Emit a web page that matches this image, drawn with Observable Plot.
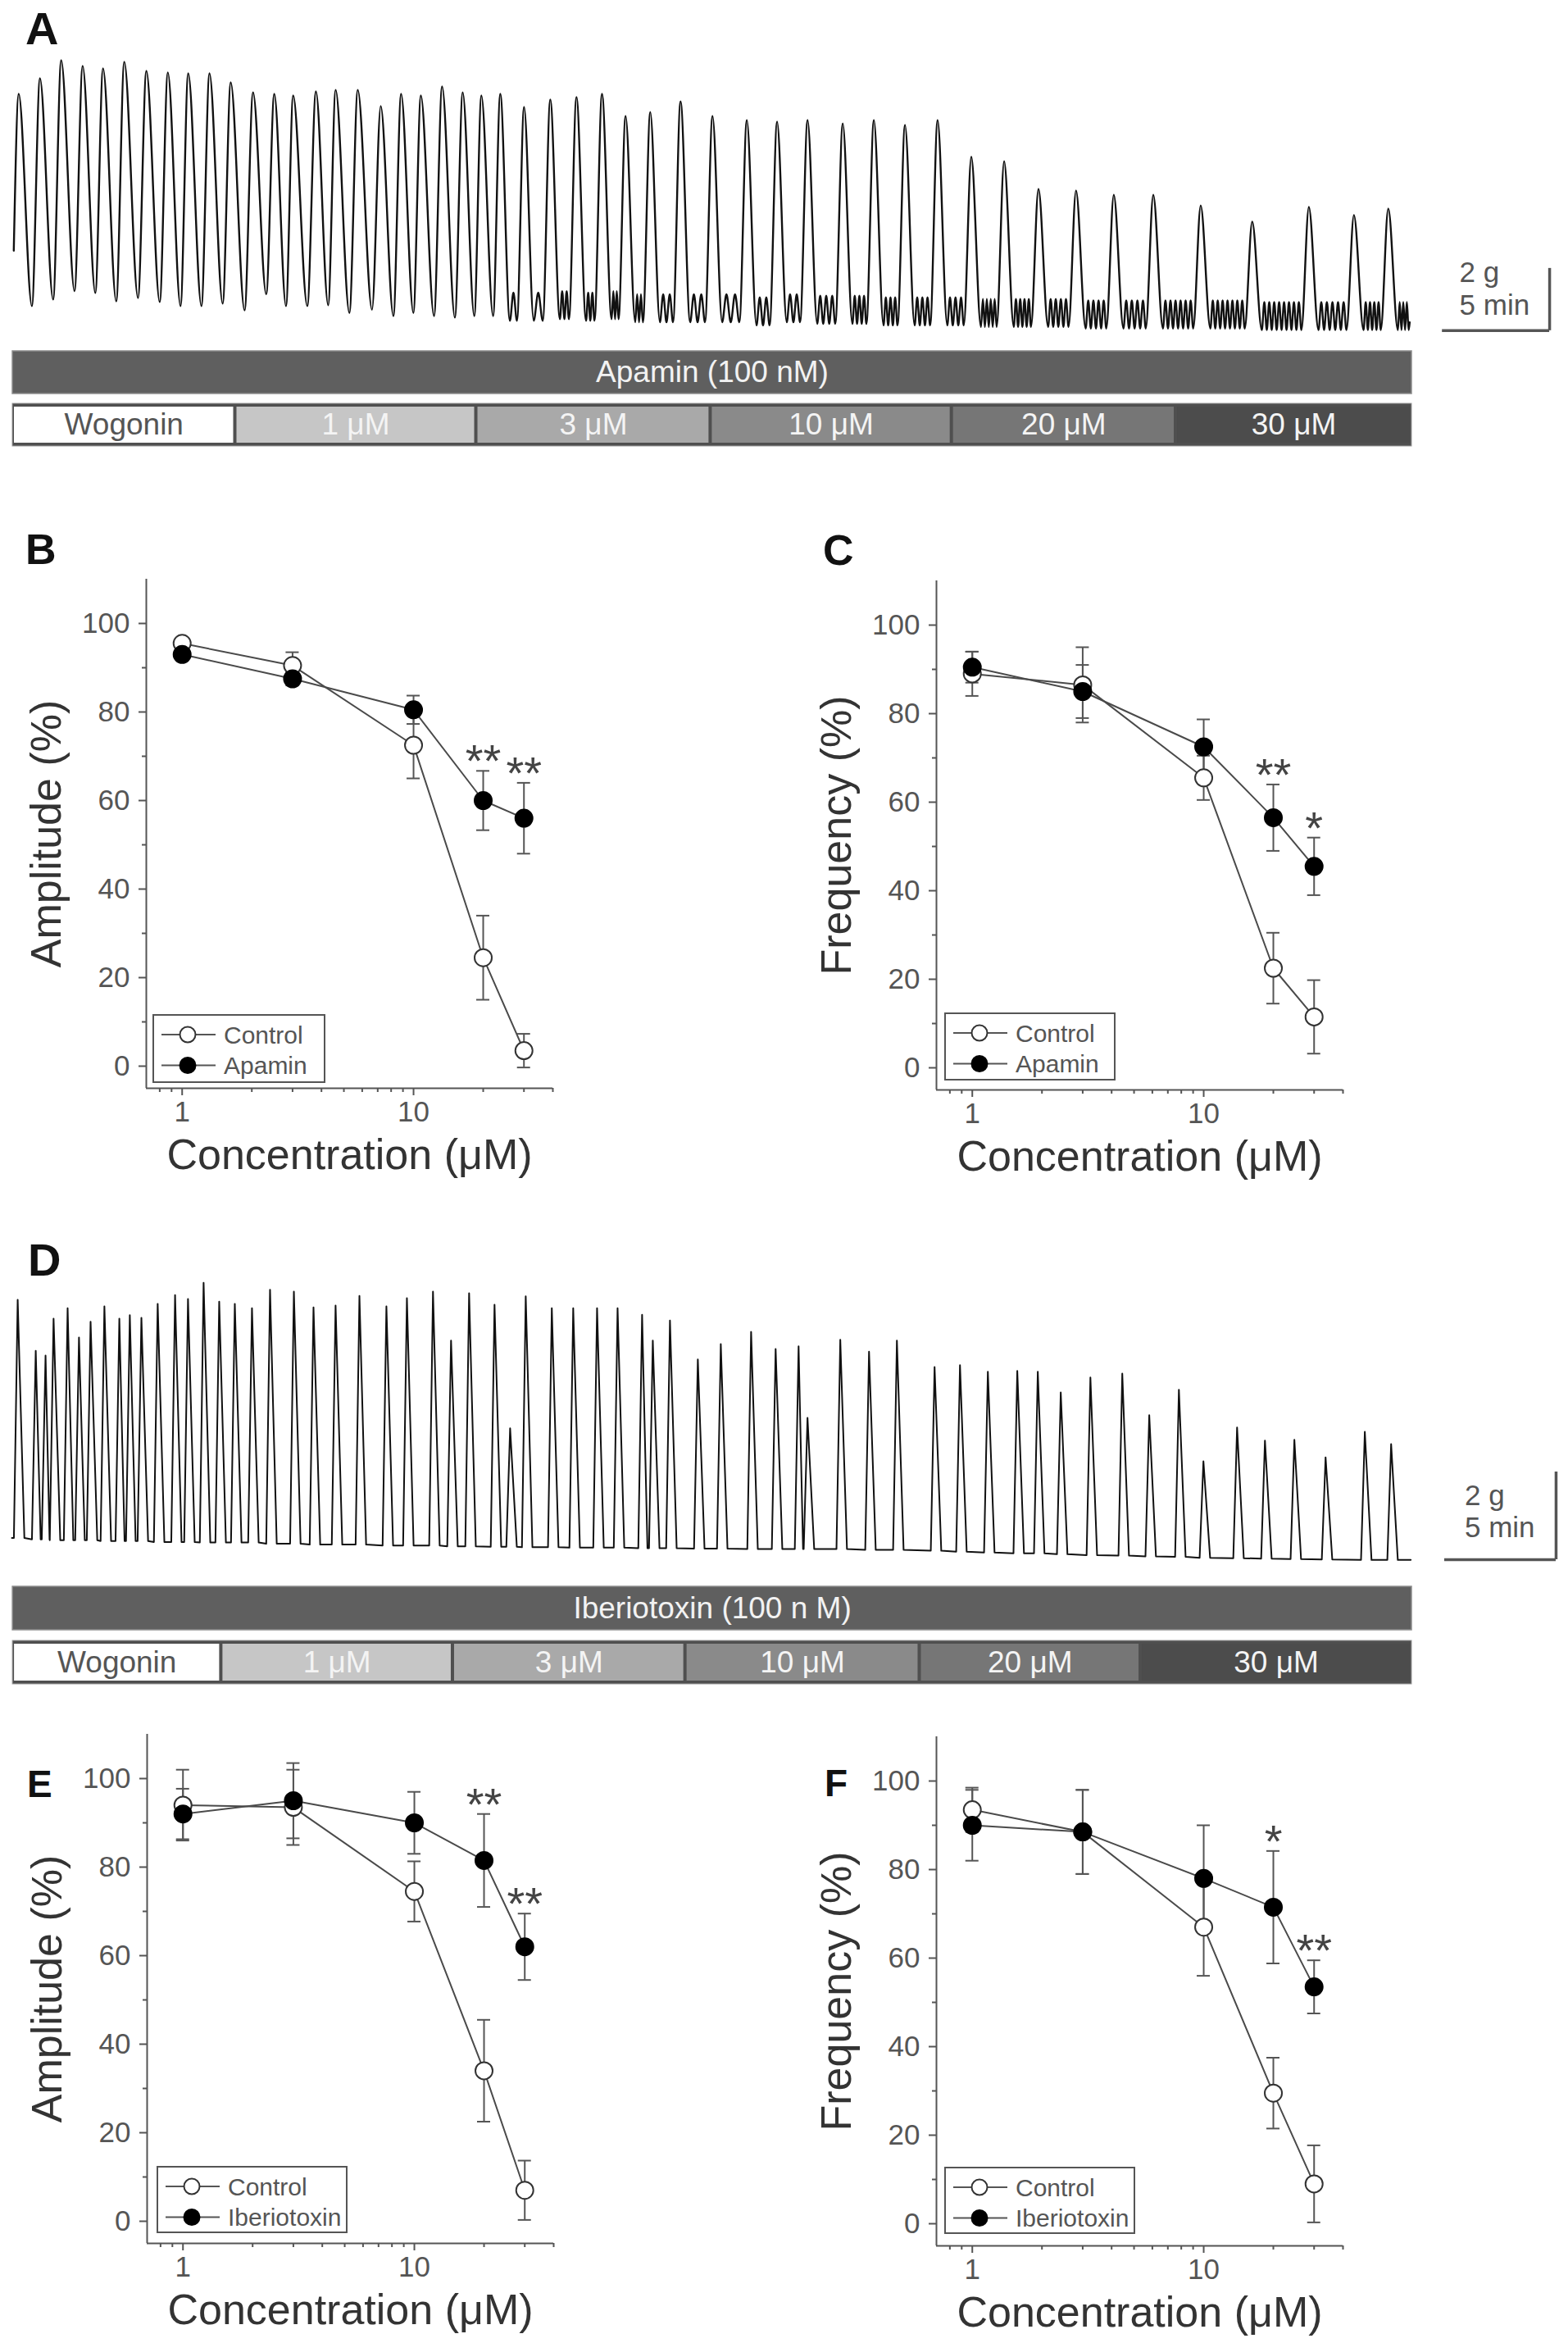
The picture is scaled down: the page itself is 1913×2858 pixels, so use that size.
<!DOCTYPE html>
<html><head><meta charset="utf-8">
<script src="https://cdn.jsdelivr.net/npm/d3@7"></script>
<script src="https://cdn.jsdelivr.net/npm/@observablehq/plot@0.6"></script>
<style>
body{margin:0;background:#fff}
#root{position:relative;width:1913px;height:2858px;background:#fff;font-family:"Liberation Sans",Arial,sans-serif;overflow:hidden}
.p{position:absolute}
</style>
</head><body><div id="root"></div>
<script>
// ---------------- DATA ----------------
// Panel A trace (time in min, tension in g)
const aPeakT = [0.23,1.22,2.21,3.21,4.16,5.15,6.18,7.18,8.13,9.12,10.11,11.15,12.14,13.02,14.08,15.0,16.03,17.1,18.05,18.97,19.96,20.92,21.79,22.67,23.78,25.0,26.22,27.41,28.51,29.66,31.07,32.56,34.16,35.57,36.99,38.63,40.08,41.53,43.05,44.62,46.15,47.75,49.5,51.26,53.1,55.31,57.71,60.35,62.45,64.05];
const aPeakG = [7.63,8.13,8.71,8.53,8.45,8.66,8.37,8.32,8.29,8.29,8.0,7.68,7.63,7.58,7.71,7.76,7.76,7.24,7.63,7.58,7.87,7.68,7.58,7.63,7.21,7.45,7.53,7.63,6.92,7.05,7.39,6.92,6.79,6.74,6.79,6.68,6.79,6.63,6.79,5.61,5.47,4.58,4.53,4.39,4.39,4.05,3.53,4.0,3.74,3.95];
const aTroughG = [0.82,1.03,1.3,1.24,0.97,1.08,0.95,0.82,0.82,0.9,0.68,1.2,0.82,0.82,0.85,0.6,0.7,0.5,0.6,0.5,0.45,0.5,0.5,0.35,0.35,0.4,0.35,0.4,0.3,0.3,0.3,0.3,0.2,0.3,0.25,0.25,0.2,0.2,0.2,0.15,0.15,0.15,0.1,0.1,0.1,0.1,0.05,0.05,0.05,0.05];
const aRipples = [0,0,0,0,0,0,0,0,0,0,0,0,0,0,0,0,0,0,0,0,0,0,0,1,1,2,2,2,2,2,2,2,2,2,3,3,3,3,3,4,4,4,4,4,6,7,8,5,4,3];
const aRippleAmp = 0.9;
const aStart = [0, 2.6], aEnd = [65.05, 0.3];
const aSegments = ["Wogonin","1 μM","3 μM","10 μM","20 μM","30 μM"];
const aBounds = [-0.05,10.32,21.55,32.47,43.71,54.15,65.15];
const aTreatment = "Apamin (100 nM)";

// Panel D trace
const dPeakT = [0.26,1.07,1.51,1.87,2.50,3.01,3.53,4.15,4.82,5.29,5.81,6.54,7.32,7.90,8.60,9.30,10.0,10.77,11.58,12.65,13.53,14.52,15.59,16.8,17.72,18.89,19.70,20.51,21.65,22.35,23.05,24.22,25.18,26.25,27.17,28.27,28.75,29.52,30.77,31.80,33.16,34.26,35.29,35.69,37.16,38.45,39.70,41.39,42.53,43.78,45.10,46.02,47.05,48.38,49.81,51.02,52.35,53.45,54.96,56.21,57.53,58.93,60.69,61.87];
const dPeakG = [5.98,4.82,4.71,5.55,5.79,5.12,5.48,5.83,5.55,5.63,5.57,5.89,6.09,6.0,6.37,5.94,5.89,5.79,6.21,6.17,5.81,5.85,6.07,5.83,6.02,6.17,5.05,6.13,5.87,3.05,6.06,5.79,5.79,5.79,5.79,5.64,5.05,5.51,4.62,4.97,5.25,4.86,4.92,3.29,5.07,4.80,5.05,4.45,4.49,4.34,4.36,4.34,3.87,4.21,4.30,3.35,3.93,2.30,3.07,2.77,2.79,2.39,2.97,2.69];
const dBaseG = [0.55,0.52,0.52,0.5,0.5,0.5,0.5,0.48,0.48,0.48,0.48,0.46,0.46,0.46,0.45,0.45,0.45,0.45,0.42,0.42,0.4,0.4,0.4,0.38,0.38,0.38,0.36,0.36,0.35,0.35,0.34,0.34,0.33,0.33,0.33,0.32,0.32,0.32,0.31,0.31,0.3,0.3,0.3,0.3,0.3,0.28,0.28,0.26,0.24,0.22,0.2,0.2,0.18,0.16,0.15,0.13,0.12,0.1,0.09,0.08,0.07,0.06,0.05,0.05];
const dStart = [0, 0.55], dEnd = [62.75, 0.05];
const dSegments = ["Wogonin","1 μM","3 μM","10 μM","20 μM","30 μM"];
const dBounds = [0.04,9.39,19.78,30.21,40.72,50.63,62.8];
const dTreatment = "Iberiotoxin (100 n M)";

// Scale bars (5 min, 2 g)
const scaleMin = 5, scaleG = 2;
const aScaleOrigin = [71.57, 0.03];
const dScaleOrigin = [69.27, 0.056];

// Dose-response data (concentration in μM, mean and SEM in %)
const conc = [1, 3, 10, 20, 30];
const bCtrlMean = [95.5, 90.5, 72.5, 24.5, 3.5];
const bCtrlSem  = [1.0, 3.0, 7.5, 9.5, 3.8];
const bTrtMean  = [93.0, 87.5, 80.5, 60.0, 56.0];
const bTrtSem   = [1.0, 1.5, 3.2, 6.7, 8.0];
const bSig = ["", "", "", "**", "**"];
const cCtrlMean = [89.0, 86.5, 65.5, 22.5, 11.5];
const cCtrlSem  = [5.0, 8.5, 5.0, 8.0, 8.3];
const cTrtMean  = [90.5, 85.0, 72.5, 56.5, 45.5];
const cTrtSem   = [3.5, 6.0, 6.2, 7.5, 6.5];
const cSig = ["", "", "", "**", "*"];
const eCtrlMean = [94.0, 93.5, 74.5, 34.0, 7.0];
const eCtrlSem  = [8.0, 8.5, 6.8, 11.5, 6.7];
const eTrtMean  = [92.0, 95.0, 90.0, 81.5, 62.0];
const eTrtSem   = [5.7, 8.5, 7.0, 10.5, 7.5];
const eSig = ["", "", "", "**", "**"];
const fCtrlMean = [93.5, 88.5, 67.0, 29.5, 9.0];
const fCtrlSem  = [5.0, 9.5, 11.0, 8.0, 8.7];
const fTrtMean  = [90.0, 88.5, 78.0, 71.5, 53.5];
const fTrtSem   = [8.0, 9.5, 12.0, 12.7, 6.0];
const fSig = ["", "", "", "*", "**"];

const yMajor = [0, 20, 40, 60, 80, 100];
const yMinor = [10, 30, 50, 70, 90];
const xMajor = [1, 10];
const xMinor = [0.8, 0.9, 2, 3, 4, 5, 6, 7, 8, 9, 20, 30, 40];

// ---------------- STYLE ----------------
const FONT = '"Liberation Sans", Arial, Helvetica, sans-serif';
const segFill = ["#ffffff","#c6c6c6","#a9a9a9","#8a8a8a","#767676","#4c4c4c"];
const segText = ["#555555","#f4f4f4","#f4f4f4","#f4f4f4","#f4f4f4","#f4f4f4"];
const root = document.getElementById("root");
function place(node, left, top) {
  const d = document.createElement("div");
  d.className = "p"; d.style.left = left + "px"; d.style.top = top + "px";
  d.appendChild(node); root.appendChild(d); return d;
}
const baseStyle = {fontFamily: FONT, background: "transparent", overflow: "visible", maxWidth: "none", color: "#555"};

// ---------------- TRACES ----------------
function buildA() {
  const pts = [{t: aStart[0], g: aStart[1]}];
  for (let i = 0; i < aPeakT.length; i++) {
    const t = aPeakT[i], lo = aTroughG[i], r = aRipples[i];
    pts.push({t, g: aPeakG[i]});
    const next = i + 1 < aPeakT.length ? aPeakT[i + 1] : aEnd[0];
    const d = next - t;
    if (r === 0) {
      pts.push({t: t + 0.62 * d, g: lo});
    } else {
      const a = t + Math.min(0.45 * d, 0.45);
      const b = i + 1 < aPeakT.length ? next - Math.min(0.3 * d, 0.35) : next - 0.05;
      const n = 2 * r;
      for (let k = 0; k <= n; k++) pts.push({t: a + (b - a) * k / n, g: k % 2 ? lo + aRippleAmp : lo});
    }
  }
  pts.push({t: aEnd[0], g: aEnd[1]});
  return pts;
}
function buildD() {
  const pts = [{t: dStart[0], g: dStart[1]}];
  for (let i = 0; i < dPeakT.length; i++) {
    const t = dPeakT[i], base = dBaseG[i];
    const prev = pts[pts.length - 1].t;
    const next = i + 1 < dPeakT.length ? dPeakT[i + 1] : dEnd[0];
    pts.push({t: Math.max(t - 0.17, prev + 0.01), g: base});
    pts.push({t, g: dPeakG[i]});
    pts.push({t: Math.min(t + 0.3, (t + next) / 2), g: base});
  }
  pts.push({t: dEnd[0], g: dEnd[1]});
  return pts;
}

function tracePlot(pts, xdom, ydom, m, origin, curve, txt, sw) {
  const [t0, g0] = origin;
  return Plot.plot({
    width: 1913, height: 420,
    marginLeft: m.left, marginRight: m.right, marginTop: m.top, marginBottom: m.bottom,
    x: {domain: xdom, axis: null}, y: {domain: ydom, axis: null},
    style: baseStyle,
    marks: [
      Plot.line(pts, {x: "t", y: "g", curve, stroke: "#111", strokeWidth: sw}),
      Plot.ruleY([g0], {x1: t0 - scaleMin, x2: t0, stroke: "#555", strokeWidth: 3.5}),
      Plot.ruleX([t0], {y1: g0, y2: g0 + scaleG, stroke: "#555", strokeWidth: 3.5}),
      Plot.text([`${scaleG} g`], {x: t0 - scaleMin * txt.dx, y: g0 + scaleG * txt.hi, textAnchor: "start", fontSize: 35, fill: "#555"}),
      Plot.text([`${scaleMin} min`], {x: t0 - scaleMin * txt.dx, y: g0 + scaleG * txt.lo, textAnchor: "start", fontSize: 35, fill: "#555"})
    ]
  });
}

function barsPlot(xdom, m, bounds, labels, treatment, pad) {
  const segs = labels.map((label, i) => ({row: "wog", start: bounds[i], end: bounds[i + 1], label, i}));
  const treat = [{row: "treat", start: bounds[0], end: bounds[bounds.length - 1], label: treatment}];
  const whole = [{row: "wog", start: bounds[0], end: bounds[bounds.length - 1]}];
  return Plot.plot({
    width: 1913, height: 140,
    marginLeft: m.left, marginRight: m.right, marginTop: m.top, marginBottom: m.bottom,
    x: {domain: xdom, axis: null},
    y: {type: "band", domain: ["treat", "wog"], paddingInner: pad, paddingOuter: 0, axis: null},
    color: {type: "identity"},
    style: baseStyle,
    marks: [
      Plot.barX(treat, {x1: "start", x2: "end", y: "row", fill: "#5f5f5f", stroke: "#8c8c8c", strokeWidth: 1.5}),
      Plot.text(treat, {x: d => (d.start + d.end) / 2, y: "row", text: "label", fill: "#f2f2f2", fontSize: 37}),
      Plot.barX(whole, {x1: "start", x2: "end", y: "row", fill: "#4f4f4f", stroke: "#9a9a9a", strokeWidth: 1}),
      Plot.barX(segs, {x1: "start", x2: "end", y: "row", fill: d => segFill[d.i], insetTop: 4, insetBottom: 4, insetLeft: 2, insetRight: 2}),
      Plot.text(segs, {x: d => (d.start + d.end) / 2, y: "row", text: "label", fill: d => segText[d.i], fontSize: 37})
    ]
  });
}

const aXdom = [-0.05, 65.15], dXdom = [0, 62.8];
const aM = {left: 15, right: 191, top: 62, bottom: 16};
const dM = {left: 14, right: 191, top: 41.2, bottom: 15};
place(tracePlot(buildA(), aXdom, [0, 9], aM, aScaleOrigin, "monotone-x", {dx: 0.84, hi: 0.93, lo: 0.4}, 2.4), 0, 0);
place(barsPlot(aXdom, {left: 15, right: 191, top: 8, bottom: 15}, aBounds, aSegments, aTreatment, 0.186), 0, 420);
place(tracePlot(buildD(), dXdom, [0, 6.8], dM, dScaleOrigin, "linear", {dx: 0.82, hi: 0.73, lo: 0.36}, 2.0), 0, 1500);
place(barsPlot(dXdom, {left: 14, right: 191, top: 10, bottom: 11}, dBounds, dSegments, dTreatment, 0.197), 0, 1925);

// ---------------- DOSE-RESPONSE ----------------
function rows(mean, sem, series) { return conc.map((c, i) => ({c, m: mean[i], e: sem[i], series})); }
function drPlot(ctrlMean, ctrlSem, trtMean, trtSem, sig, ylabel) {
  const ctrl = rows(ctrlMean, ctrlSem, "ctrl"), trt = rows(trtMean, trtSem, "trt");
  const all = ctrl.concat(trt);
  const stars = trt.map((d, i) => ({c: d.c, top: d.m + d.e, s: sig[i]})).filter(d => d.s);
  return Plot.plot({
    width: 720, height: 830, marginLeft: 178, marginRight: 46, marginTop: 86, marginBottom: 123,
    x: {type: "log", domain: [0.7, 40]},
    y: {domain: [-5, 110]},
    style: {...baseStyle, fontSize: "35px"},
    marks: [
      Plot.axisY(yMajor, {tickSize: 9, tickPadding: 11, strokeWidth: 2, fontSize: 35, label: null, fill: "#555"}),
      Plot.axisY(yMinor, {tickSize: 5, strokeWidth: 2, tickFormat: () => "", label: null}),
      Plot.axisX(xMajor, {tickSize: 9, tickPadding: 7, strokeWidth: 2, fontSize: 35, tickFormat: d => String(d), label: null, fill: "#555"}),
      Plot.axisX(xMinor, {tickSize: 5, strokeWidth: 2, tickFormat: () => "", label: null}),
      Plot.ruleX([0.7], {y1: -5, y2: 110, stroke: "#555", strokeWidth: 2}),
      Plot.ruleY([-5], {x1: 0.7, x2: 40, stroke: "#555", strokeWidth: 2}),
      Plot.line(ctrl, {x: "c", y: "m", stroke: "#4a4a4a", strokeWidth: 2}),
      Plot.line(trt, {x: "c", y: "m", stroke: "#4a4a4a", strokeWidth: 2}),
      Plot.ruleX(all, {x: "c", y1: d => d.m - d.e, y2: d => d.m + d.e, stroke: "#555", strokeWidth: 2}),
      Plot.ruleY(all, {x1: "c", x2: "c", y: d => d.m + d.e, insetLeft: -8, insetRight: -8, stroke: "#555", strokeWidth: 2}),
      Plot.ruleY(all, {x1: "c", x2: "c", y: d => d.m - d.e, insetLeft: -8, insetRight: -8, stroke: "#555", strokeWidth: 2}),
      Plot.dot(ctrl, {x: "c", y: "m", r: 10.5, fill: "#fff", stroke: "#333", strokeWidth: 2}),
      Plot.dot(trt, {x: "c", y: "m", r: 10.5, fill: "#000", stroke: "#000", strokeWidth: 2}),
      Plot.text(stars, {x: "c", y: "top", text: "s", dy: -11, fontSize: 56, fill: "#444"}),
      Plot.text([ylabel], {frameAnchor: "left", textAnchor: "middle", lineAnchor: "middle", dx: -121, rotate: -90, fontSize: 52, fill: "#333"}),
      Plot.text(["Concentration (μM)"], {frameAnchor: "bottom", textAnchor: "middle", lineAnchor: "middle", dy: 82, fontSize: 52, fill: "#333"})
    ]
  });
}
place(drPlot(bCtrlMean, bCtrlSem, bTrtMean, bTrtSem, bSig, "Amplitude (%)"), 0, 620);
place(drPlot(cCtrlMean, cCtrlSem, cTrtMean, cTrtSem, cSig, "Frequency (%)"), 964, 622);
place(drPlot(eCtrlMean, eCtrlSem, eTrtMean, eTrtSem, eSig, "Amplitude (%)"), 1, 2029);
place(drPlot(fCtrlMean, fCtrlSem, fTrtMean, fTrtSem, fSig, "Frequency (%)"), 964, 2032);

// ---------------- OVERLAY: panel letters and legends ----------------
const NS = "http://www.w3.org/2000/svg";
const ov = document.createElementNS(NS, "svg");
ov.setAttribute("width", 1913); ov.setAttribute("height", 2858);
ov.style.position = "absolute"; ov.style.left = "0"; ov.style.top = "0"; ov.style.pointerEvents = "none";
root.appendChild(ov);
function el(tag, attrs, text) {
  const e = document.createElementNS(NS, tag);
  for (const k in attrs) e.setAttribute(k, attrs[k]);
  if (text != null) e.textContent = text;
  ov.appendChild(e); return e;
}
const letters = [["A",31,54,56],["B",31,688,52],["C",1004,689,52],["D",34,1556,56],["E",33,2192,46],["F",1006,2191,46]];
for (const [t, x, y, s] of letters) el("text", {x, y, "font-family": FONT, "font-weight": "bold", "font-size": s, fill: "#111"}, t);

function legend(x, y, w, h, names) {
  el("rect", {x, y, width: w, height: h, fill: "#fff", stroke: "#555", "stroke-width": 2});
  names.forEach((name, i) => {
    const cy = y + 24 + i * 37.5;
    el("line", {x1: x + 10, x2: x + 76, y1: cy, y2: cy, stroke: "#555", "stroke-width": 2});
    el("circle", {cx: x + 42, cy, r: 9.5, fill: i ? "#000" : "#fff", stroke: i ? "#000" : "#333", "stroke-width": 2});
    el("text", {x: x + 86, y: cy, "dominant-baseline": "central", "font-family": FONT, "font-size": 30, fill: "#555"}, name);
  });
}
legend(187, 1238, 209, 82, ["Control", "Apamin"]);
legend(1153, 1236, 207, 81, ["Control", "Apamin"]);
legend(192, 2643, 231, 80, ["Control", "Iberiotoxin"]);
legend(1153, 2644, 231, 80, ["Control", "Iberiotoxin"]);
</script>
</body></html>
